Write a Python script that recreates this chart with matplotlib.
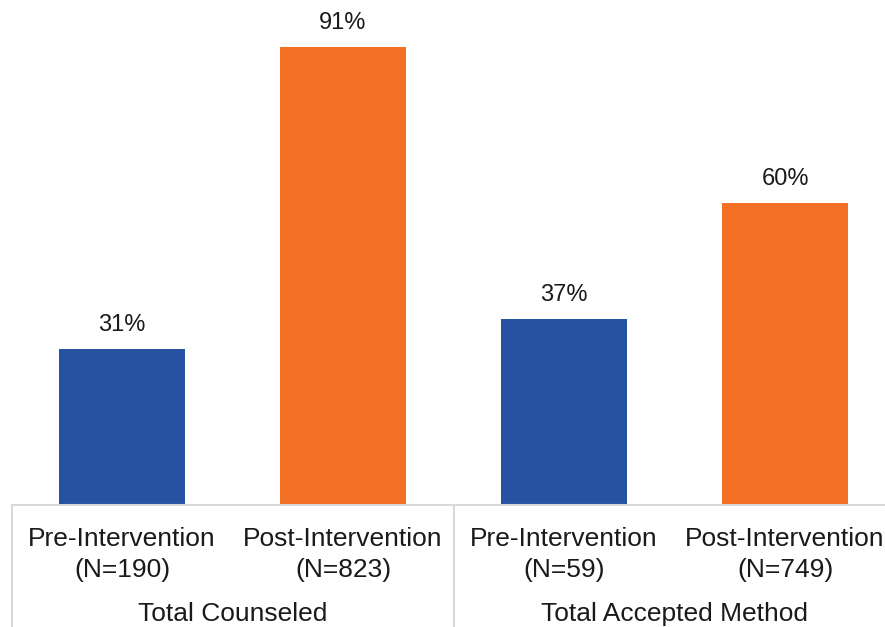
import matplotlib
matplotlib.use("Agg")
import matplotlib.pyplot as plt
import matplotlib.transforms as mtransforms

# data
groups = ["Total Counseled", "Total Accepted Method"]
labels = ["Pre-Intervention\n(N=190)", "Post-Intervention\n(N=823)",
          "Pre-Intervention\n(N=59)", "Post-Intervention\n(N=749)"]
values = [31, 91, 37, 60]

BLUE = "#2751A1"
ORANGE = "#F36F24"
GRID = "#D9D9D9"
colors = [BLUE, ORANGE, BLUE, ORANGE]

plt.rcParams['font.family'] = ['Liberation Sans', 'DejaVu Sans']

W, H = 885, 627
fig = plt.figure(figsize=(W / 100, H / 100), dpi=100)
# axes in pixel terms: left 11, bottom 505 (from top), top 2
ax = fig.add_axes([11.5 / W, (H - 505) / H, 884 / W, 503 / H])

x = list(range(len(values)))
ax.bar(x, values, width=0.57, color=colors)
ax.set_xlim(-0.5, 3.5)
ax.set_ylim(0, 100)

for xi, v in zip(x, values):
    ax.text(xi, v + 2.6, f"{v}%", ha="center", va="bottom", fontsize=17, color="#1a1a1a")

ax.set_xticks([])
ax.set_yticks([])
for s in ax.spines.values():
    s.set_visible(False)

# multi-level category axis
trans = mtransforms.blended_transform_factory(ax.transData, ax.transAxes)
ax.plot([-0.5, 3.5], [0, 0], transform=trans, color=GRID, lw=1.5, clip_on=False)
for xv in [-0.5, 1.5]:
    ax.plot([xv, xv], [0, -0.3], transform=trans, color=GRID, lw=1.5, clip_on=False)

for xi, lab in zip(x, labels):
    ax.text(xi, -0.044, lab, transform=trans, ha="center", va="top",
            fontsize=19, color="#1a1a1a", linespacing=1.35)

for gi, g in enumerate(groups):
    ax.text(gi * 2 + 0.5, -0.193, g, transform=trans, ha="center", va="top",
            fontsize=19, color="#1a1a1a")

fig.savefig("out.png", dpi=100)
